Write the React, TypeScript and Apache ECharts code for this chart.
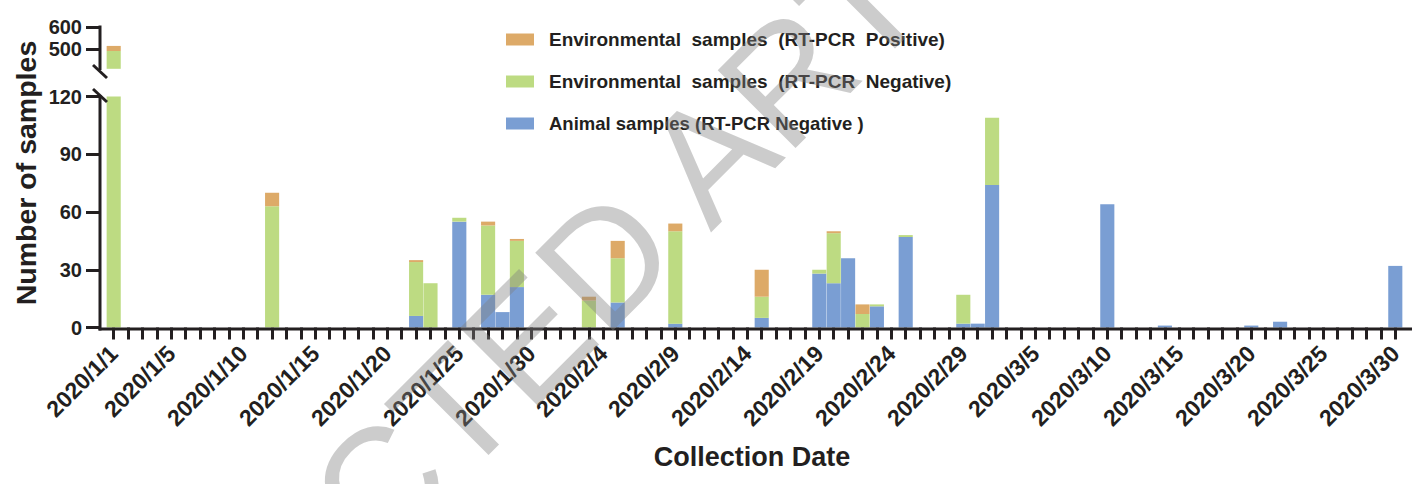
import React, { useEffect, useRef } from "react";
import * as echarts from "echarts";

// ---- categories (one per day, 2020/1/1 .. 2020/3/30) ----
const monthDays: [number, number][] = [[1, 31], [2, 29], [3, 30]];
const categories: string[] = [];
monthDays.forEach(([m, n]) => {
  for (let d = 1; d <= n; d++) categories.push(`2020/${m}/${d}`);
});

// tick labels shown on the x axis
const shownLabels = [
  "2020/1/1", "2020/1/5", "2020/1/10", "2020/1/15", "2020/1/20", "2020/1/25",
  "2020/1/30", "2020/2/4", "2020/2/9", "2020/2/14", "2020/2/19", "2020/2/24",
  "2020/2/29", "2020/3/5", "2020/3/10", "2020/3/15", "2020/3/20", "2020/3/25",
  "2020/3/30",
];

// ---- series values (date, samples); other days have none ----
const animalNegative: [string, number][] = [
  ["2020/1/22", 6], ["2020/1/25", 55], ["2020/1/27", 17], ["2020/1/28", 8],
  ["2020/1/29", 21], ["2020/2/5", 13], ["2020/2/9", 2], ["2020/2/15", 5],
  ["2020/2/19", 28], ["2020/2/20", 23], ["2020/2/21", 36], ["2020/2/23", 11],
  ["2020/2/25", 47], ["2020/2/29", 2], ["2020/3/1", 2], ["2020/3/2", 74],
  ["2020/3/10", 64], ["2020/3/14", 1], ["2020/3/20", 1], ["2020/3/22", 3],
  ["2020/3/30", 32],
];
const envNegative: [string, number][] = [
  ["2020/1/1", 491], ["2020/1/12", 63], ["2020/1/22", 28], ["2020/1/23", 23],
  ["2020/1/25", 2], ["2020/1/27", 36], ["2020/1/29", 24], ["2020/2/3", 14],
  ["2020/2/5", 23], ["2020/2/9", 48], ["2020/2/15", 11], ["2020/2/19", 2],
  ["2020/2/20", 26], ["2020/2/22", 7], ["2020/2/23", 1], ["2020/2/25", 1],
  ["2020/2/29", 15], ["2020/3/2", 35],
];
const envPositive: [string, number][] = [
  ["2020/1/1", 23], ["2020/1/12", 7], ["2020/1/22", 1], ["2020/1/27", 2],
  ["2020/1/29", 1], ["2020/2/3", 2], ["2020/2/5", 9], ["2020/2/9", 4],
  ["2020/2/15", 14], ["2020/2/20", 1], ["2020/2/22", 5],
];

const NAME_POS = "Environmental  samples  (RT-PCR  Positive)";
const NAME_NEG = "Environmental  samples  (RT-PCR  Negative)";
const NAME_ANI = "Animal samples (RT-PCR Negative )";

const C_POS = "#DDAA68";
const C_NEG = "#BDDB82";
const C_ANI = "#7A9ED3";
const INK = "#231f20";
const FONT = "'Liberation Sans', Arial, Helvetica, sans-serif";

const toFull = (pairs: [string, number][]) =>
  categories.map((c) => {
    const f = pairs.find((p) => p[0] === c);
    return f ? f[1] : 0;
  });

export default function App() {
  const ref = useRef<HTMLDivElement>(null);
  useEffect(() => {
    if (!ref.current) return;
    const chart = echarts.init(ref.current, undefined, { renderer: "svg" });

    const gridLeft = 106.5;
    const gridWidth = 1296;

    const series: any[] = [];
    [0, 1].forEach((g) => {
      const common = {
        type: "bar",
        xAxisIndex: g,
        yAxisIndex: g,
        stack: "s" + g,
        barCategoryGap: "2%",
        clip: true,
      };
      series.push({ ...common, name: NAME_ANI, data: toFull(animalNegative), itemStyle: { color: C_ANI } });
      series.push({ ...common, name: NAME_NEG, data: toFull(envNegative), itemStyle: { color: C_NEG } });
      series.push({ ...common, name: NAME_POS, data: toFull(envPositive), itemStyle: { color: C_POS } });
    });

    const yLabel = { fontSize: 20, fontWeight: "bold", color: INK, fontFamily: FONT, margin: 18 };
    const yTick = { show: true, length: 14, lineStyle: { color: INK, width: 3 } };
    const legendText = (size: number) => ({
      fontSize: size,
      lineHeight: 18,
      fontWeight: "bold",
      color: INK,
      fontFamily: FONT,
      padding: [0, 0, 0, 10],
    });

    chart.setOption({
      animation: false,
      backgroundColor: "#ffffff",
      textStyle: { fontFamily: FONT },
      legend: {
        orient: "vertical",
        left: 506,
        top: 30,
        padding: 0,
        itemWidth: 28,
        itemHeight: 12,
        itemGap: 23,
        selectedMode: false,
        icon: "rect",
        data: [
          { name: NAME_POS, textStyle: legendText(19) },
          { name: NAME_NEG, textStyle: legendText(19) },
          { name: NAME_ANI, textStyle: legendText(18.5) },
        ],
        textStyle: legendText(19),
      },
      grid: [
        { left: gridLeft, width: gridWidth, top: 27, height: 41.8 },
        { left: gridLeft, width: gridWidth, top: 96.5, height: 231 },
      ],
      xAxis: [
        { type: "category", gridIndex: 0, data: categories, show: false },
        {
          type: "category",
          gridIndex: 1,
          data: categories,
          axisLine: { show: false },
          axisTick: { show: true, alignWithLabel: true, interval: 0, length: 12, lineStyle: { color: INK, width: 3 } },
          axisLabel: {
            interval: (i: number, v: string) => shownLabels.includes(v),
            rotate: 45,
            margin: 22,
            fontSize: 23,
            fontWeight: "bold",
            color: INK,
            fontFamily: FONT,
          },
        },
      ],
      yAxis: [
        {
          type: "value",
          gridIndex: 0,
          min: 410,
          max: 600,
          offset: 6.5,
          axisLine: { show: false },
          splitLine: { show: false },
          axisTick: { ...yTick, customValues: [500, 600] },
          axisLabel: { ...yLabel, customValues: [500, 600] },
        },
        {
          type: "value",
          gridIndex: 1,
          min: 0,
          max: 120,
          interval: 30,
          offset: 6.5,
          axisLine: { show: false },
          splitLine: { show: false },
          axisTick: yTick,
          axisLabel: yLabel,
        },
      ],
      series,
      graphic: [
        { type: "line", z: 50, shape: { x1: 98.5, y1: 329, x2: 1412, y2: 329 }, style: { stroke: INK, lineWidth: 3 } },
        { type: "line", z: 50, shape: { x1: 100, y1: 95, x2: 100, y2: 330.5 }, style: { stroke: INK, lineWidth: 3 } },
        { type: "line", z: 50, shape: { x1: 100, y1: 25.5, x2: 100, y2: 70 }, style: { stroke: INK, lineWidth: 3 } },
        { type: "line", z: 50, shape: { x1: 93, y1: 65, x2: 107, y2: 78 }, style: { stroke: INK, lineWidth: 3 } },
        { type: "line", z: 50, shape: { x1: 93, y1: 89, x2: 107, y2: 102 }, style: { stroke: INK, lineWidth: 3 } },
        {
          type: "text", z: 50, x: 26, y: 173, rotation: Math.PI / 2,
          style: { text: "Number of samples", fontSize: 28.5, fontWeight: "bold", fontFamily: FONT, fill: INK, align: "center", verticalAlign: "middle" },
        },
        {
          type: "text", z: 50, x: 752, y: 457,
          style: { text: "Collection Date", fontSize: 27, fontWeight: "bold", fontFamily: FONT, fill: INK, align: "center", verticalAlign: "middle" },
        },
        {
          type: "text", z: 100, x: -45, y: 910, rotation: (45 * Math.PI) / 180,
          style: { text: "RETRACTED ARTICLE", fontSize: 160, fontFamily: FONT, fill: "#808080", opacity: 0.4, align: "left", verticalAlign: "middle" },
        },
      ],
    });
    return () => chart.dispose();
  }, []);

  return (
    <div
      ref={ref}
      style={{ position: "fixed", left: 0, top: 0, width: 1423, height: 484, background: "#fff" }}
    />
  );
}
